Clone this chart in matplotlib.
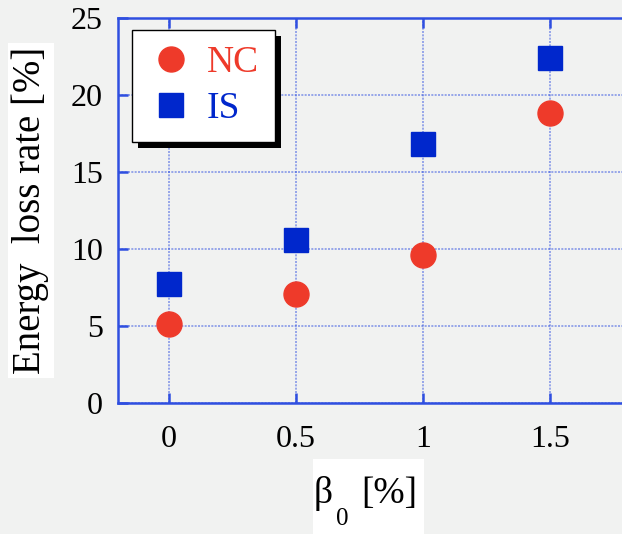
import numpy as np
import matplotlib.pyplot as plt
from matplotlib.patches import Rectangle

plt.rcParams['font.family'] = ['Liberation Serif', 'DejaVu Serif']

# Energy loss rate vs initial beta, two schemes
beta0 = [0, 0.5, 1.0, 1.5]
loss_nc = [5.1, 7.1, 9.6, 18.8]
loss_is = [7.7, 10.6, 16.8, 22.4]

x_ticks = [0, 0.5, 1, 1.5]
x_ticklabels = ['0', '0.5', '1', '1.5']
y_ticks = [0, 5, 10, 15, 20, 25]

BG = '#f1f2f1'
AXIS_BLUE = '#2f4fe0'
RED = '#ee3a2a'
BLUE = '#0027cc'

W, H = 622, 534
fig = plt.figure(figsize=(W / 100, H / 100), dpi=100, facecolor=BG)
ax = fig.add_axes([118 / W, 1 - 403 / H, 508 / W, 385 / H])
ax.set_facecolor(BG)

ax.plot(beta0, loss_nc, 'o', color=RED, markersize=18, label='NC', zorder=3)
ax.plot(beta0, loss_is, 's', color=BLUE, markersize=17, label='IS', zorder=3)

ax.set_xlim(-0.2, 1.8)
ax.set_ylim(0, 25)
ax.set_xticks(x_ticks)
ax.set_xticklabels(x_ticklabels)
ax.set_yticks(y_ticks)

ax.grid(True, color=AXIS_BLUE, linestyle=(0, (1.2, 0.8)), linewidth=1.2, alpha=0.55)
for side in ['left', 'bottom', 'top']:
    ax.spines[side].set_color(AXIS_BLUE)
    ax.spines[side].set_linewidth(1.8)
ax.spines['right'].set_visible(False)
ax.tick_params(direction='in', length=7, width=1.8, color=AXIS_BLUE,
               labelsize=23, top=True)
ax.tick_params(axis='x', pad=16)
ax.tick_params(axis='y', pad=11)

ax.set_ylabel('Energy  loss rate [%]', fontsize=28,
              bbox=dict(facecolor='white', edgecolor='none', pad=3))
ax.yaxis.label.set_va('center')
ax.yaxis.set_label_coords(-0.172, 0.5)

# x label: beta with a dropped subscript, on a white patch
fig.patches.append(Rectangle((313 / W, 0), 111 / W, 75 / H, transform=fig.transFigure,
                             facecolor='white', edgecolor='none', zorder=0))
fig.text(314 / W, 1 - 503 / H, 'β', fontsize=27, va='baseline', ha='left')
fig.text(336 / W, 1 - 525 / H, '0', fontsize=18, va='baseline', ha='left')
fig.text(361 / W, 1 - 503 / H, '[%]', fontsize=27, va='baseline', ha='left')

leg = ax.legend(loc='upper left', bbox_to_anchor=(14 / 508, 1 - 12 / 385), fontsize=27,
                frameon=True, fancybox=False, shadow=False,
                handletextpad=0.32, borderpad=0.42, labelspacing=0.3,
                handlelength=1.25, borderaxespad=0)
leg.get_frame().set_edgecolor('black')
leg.get_frame().set_linewidth(1.0)
leg.get_frame().set_alpha(1)
for txt, col in zip(leg.get_texts(), [RED, BLUE]):
    txt.set_color(col)

# solid drop shadow behind the legend frame
fig.canvas.draw()
bb = leg.get_frame().get_window_extent()
ax.add_artist(Rectangle((bb.x0 + 6, bb.y0 - 6), bb.width, bb.height, transform=None,
                        facecolor='black', edgecolor='none', zorder=4.9))

fig.savefig('out.png', dpi=100, facecolor=BG)
